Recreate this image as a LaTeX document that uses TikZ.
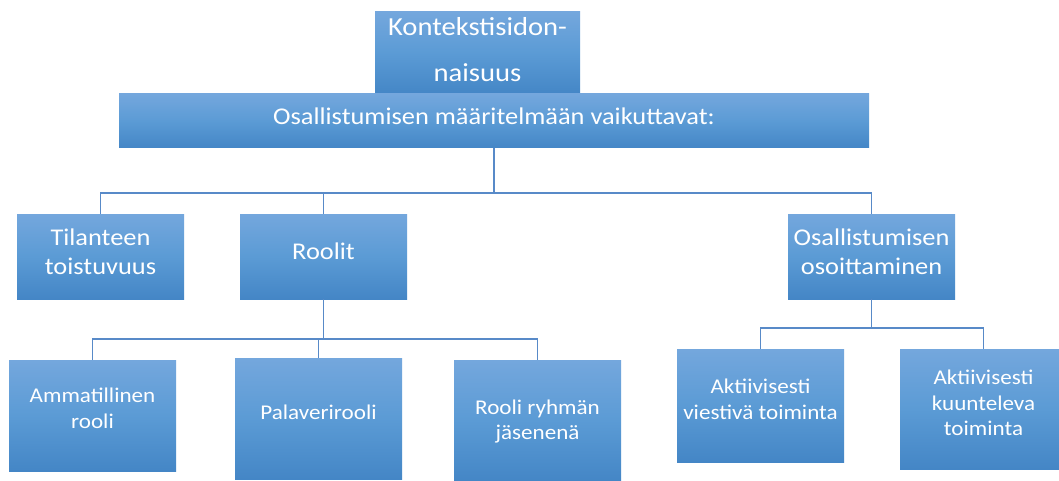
\documentclass[tikz,border=0pt]{standalone}
\usepackage{fontspec}
\setmainfont{Carlito}[FakeStretch=1.1]
\usepackage{tikz}
\usetikzlibrary{positioning}
\definecolor{boxtop}{RGB}{116,167,221}
\definecolor{boxmid}{RGB}{91,155,213}
\definecolor{boxbot}{RGB}{68,134,198}
\definecolor{linkblue}{RGB}{88,138,200}
\tikzstyle{every node}=[inner sep=0pt,text=white,align=center]
\tikzstyle{box}=[rectangle,top color=boxtop,bottom color=boxbot,middle color=boxmid,minimum width=167pt]
\tikzstyle{big}=[font=\fontsize{24}{29.3}\selectfont]
\tikzstyle{small}=[font=\fontsize{21}{25.6}\selectfont]
\tikzstyle{link}=[draw=linkblue,line width=1.3pt]
\begin{document}
\begin{tikzpicture}[x=1pt,y=-1pt]
  \useasboundingbox[fill=white] (0,0) rectangle (1059,481);
  \node[box,minimum width=205pt,minimum height=82pt,
    label={[font=\fontsize{26}{46}\selectfont,yshift=3pt]center:Kontekstisidon-\\naisuus}] (kontek) at (477.5,53) {};
  \node[box,minimum width=750pt,minimum height=54pt,
    label={[big,yshift=5pt]center:Osallistumisen määritelmään vaikuttavat:}] (maar) at (494,121) {};
  % toinen taso
  \node[box,minimum height=85pt,label={[big,yshift=5pt]center:Tilanteen\\toistuvuus}] (tilanne) at (100.5,256.5) {};
  \node[box,minimum height=85pt,label={[big,yshift=5pt]center:Roolit}] (roolit) at (323.5,256.5) {};
  \node[box,minimum height=85pt,label={[big,yshift=5pt]center:Osallistumisen\\osoittaminen}] (osoitt) at (871.5,256.5) {};
  % kolmas taso
  \node[box,minimum height=111pt,label={[small,yshift=7pt]center:Ammatillinen\\rooli}] (ammat) at (92.5,415.5) {};
  \node[box,minimum height=121pt,label={[small,yshift=6pt]center:Palaverirooli}] (palaver) at (318.5,418.5) {};
  \node[box,minimum height=121pt,label={[small,yshift=-1pt]center:Rooli ryhmän\\jäsenenä}] (ryhma) at (537.5,420.5) {};
  \node[box,minimum height=113pt,label={[small,yshift=6pt]center:Aktiivisesti\\viestivä toiminta}] (viesti) at (760.5,405.5) {};
  \node[box,minimum height=120pt,label={[small,yshift=6pt]center:Aktiivisesti\\kuunteleva\\toiminta}] (kuunt) at (983.5,409) {};
  % yhdysviivat
  \coordinate (bus1) at (0,193);
  \coordinate (bus2) at (0,339);
  \coordinate (bus3) at (0,328);
  \draw[link] (maar.south) -- (maar.south |- bus1) -| (tilanne.north);
  \draw[link] (maar.south) -- (maar.south |- bus1) -| (roolit.north);
  \draw[link] (maar.south) -- (maar.south |- bus1) -| (osoitt.north);
  \draw[link] (roolit.south) -- (roolit.south |- bus2) -| (ammat.north);
  \draw[link] (roolit.south) -- (roolit.south |- bus2) -| (palaver.north);
  \draw[link] (roolit.south) -- (roolit.south |- bus2) -| (ryhma.north);
  \draw[link] (osoitt.south) -- (osoitt.south |- bus3) -| (viesti.north);
  \draw[link] (osoitt.south) -- (osoitt.south |- bus3) -| (kuunt.north);
\end{tikzpicture}
\end{document}
